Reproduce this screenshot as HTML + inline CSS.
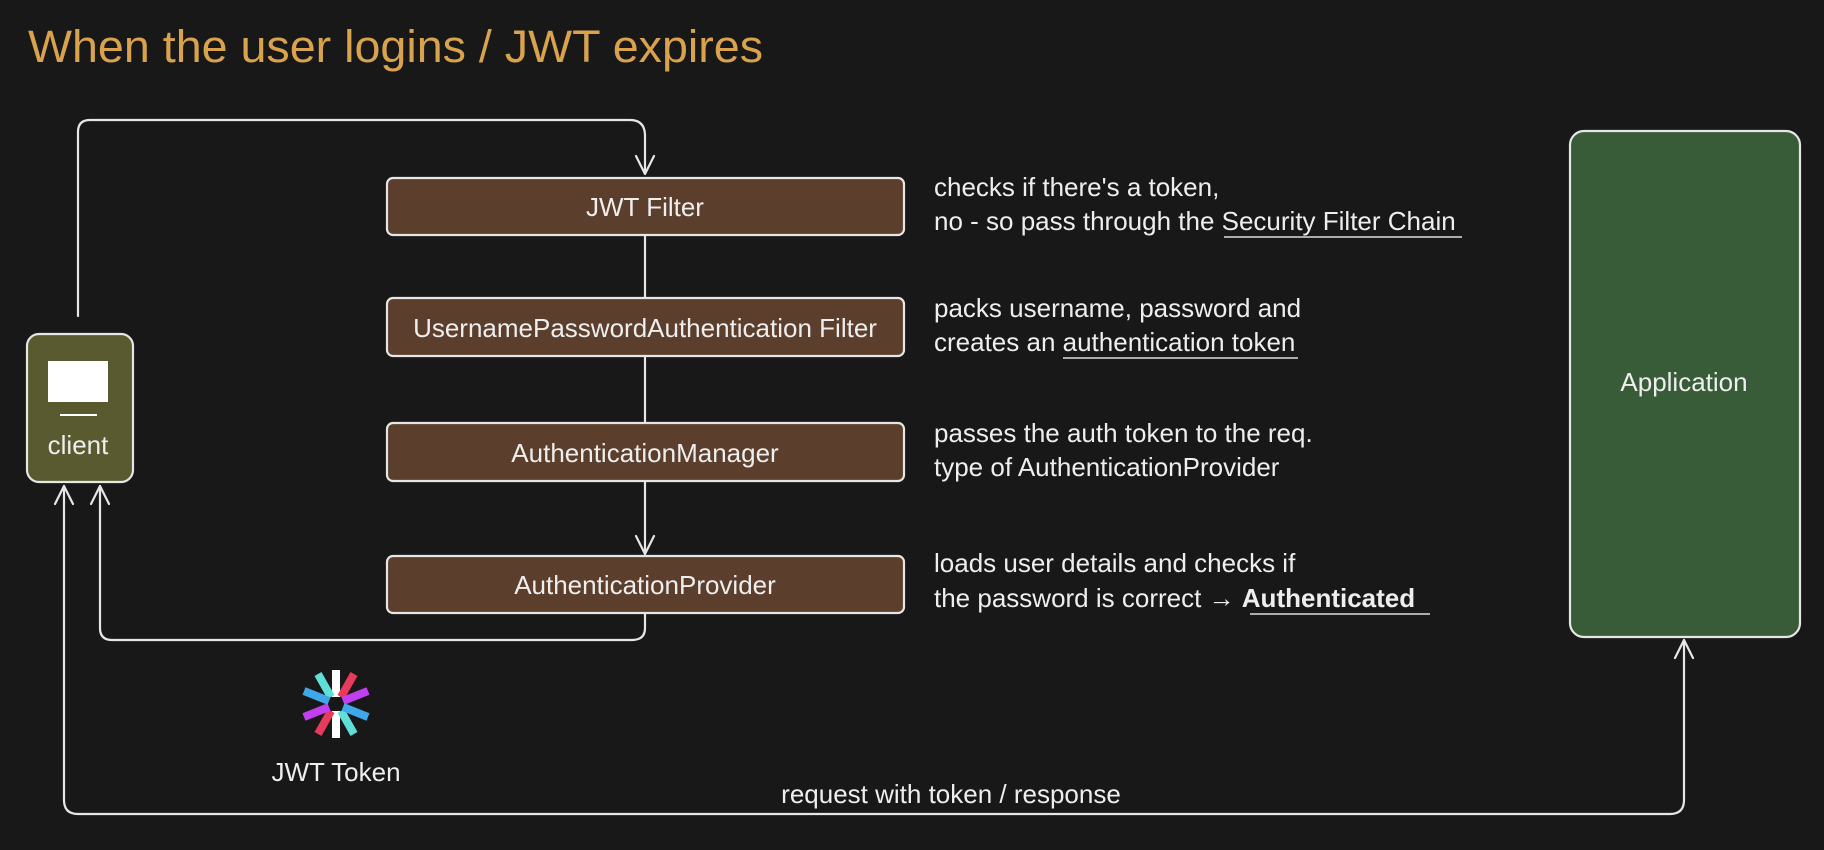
<!DOCTYPE html>
<html><head><meta charset="utf-8"><style>
body{margin:0;background:#181818;width:1824px;height:850px;overflow:hidden;font-family:"Liberation Sans",sans-serif;}
svg{position:absolute;left:0;top:0}
.t{fill:#eee;font-size:26px;font-family:"Liberation Sans",sans-serif}
</style></head><body>
<svg width="1824" height="850" viewBox="0 0 1824 850">
<text x="28" y="62" fill="#d9a24c" font-size="45" font-family="Liberation Sans" textLength="735" lengthAdjust="spacingAndGlyphs">When the user logins / JWT expires</text>
<g fill="none" stroke="#e6e6e6" stroke-width="2.2" stroke-linecap="round" stroke-linejoin="round">
<path d="M78 316 V132 Q78 120 90 120 H630 Q645 120 645 136 V172"/>
<path d="M636 156 L645 174 L654 156"/>
<path d="M645 236 V298 M645 357 V423 M645 482 V554"/>
<path d="M636 536 L645 554 L654 536"/>
<path d="M645 614 V628 Q645 640 632 640 H112 Q100 640 100 628 V486"/>
<path d="M91 504 L100 486 L109 504"/>
<path d="M64 486 V800 Q64 814 78 814 H1670 Q1684 814 1684 800 V640"/>
<path d="M55 504 L64 486 L73 504 M1675 658 L1684 640 L1693 658"/>
</g>
<g stroke="#e6e6e6" stroke-width="2.2" fill="#5b3e2b">
<rect x="387" y="178" width="517" height="57" rx="6"/>
<rect x="387" y="298" width="517" height="58" rx="6"/>
<rect x="387" y="423" width="517" height="58" rx="6"/>
<rect x="387" y="556" width="517" height="57" rx="6"/>
<rect x="27" y="334" width="106" height="148" rx="12" fill="#5a5a31"/>
<rect x="1570" y="131" width="230" height="506" rx="14" fill="#385c38"/>
</g>
<g text-anchor="middle">
<text class="t" x="645" y="216">JWT Filter</text>
<text class="t" x="645" y="337">UsernamePasswordAuthentication Filter</text>
<text class="t" x="645" y="462">AuthenticationManager</text>
<text class="t" x="645" y="594">AuthenticationProvider</text>
<text class="t" x="78" y="454">client</text>
<text class="t" x="1684" y="391">Application</text>
<text class="t" x="336" y="781">JWT Token</text>
<text class="t" x="951" y="803">request with token / response</text>
</g>
<rect x="48" y="361" width="60" height="41" fill="#fff"/>
<rect x="60" y="414" width="37" height="2" fill="#fff"/>
<g>
<text class="t" x="934" y="196">checks if there's a token,</text>
<text class="t" x="934" y="230">no - so pass through the Security Filter Chain</text>
<text class="t" x="934" y="317">packs username, password and</text>
<text class="t" x="934" y="351">creates an authentication token</text>
<text class="t" x="934" y="442">passes the auth token to the req.</text>
<text class="t" x="934" y="476">type of AuthenticationProvider</text>
<text class="t" x="934" y="572">loads user details and checks if</text>
<text class="t" x="934" y="607">the password is correct → <tspan font-weight="bold">Authenticated</tspan></text>
</g>
<g stroke="#ddd" stroke-width="1.5">
<line x1="1224" y1="237" x2="1462" y2="237"/>
<line x1="1063" y1="358" x2="1298" y2="358"/>
<line x1="1250" y1="614" x2="1430" y2="614"/>
</g>
<g transform="translate(336,704)" stroke-width="8">
<line x1="0" y1="-7" x2="0" y2="-34" stroke="#fff"/>
<line x1="0" y1="7" x2="0" y2="34" stroke="#fff"/>
<line x1="5" y1="-7" x2="18" y2="-30" stroke="#e83a5a"/>
<line x1="-5" y1="7" x2="-18" y2="30" stroke="#e83a5a"/>
<line x1="-5" y1="-7" x2="-18" y2="-30" stroke="#5ee0d8"/>
<line x1="5" y1="7" x2="18" y2="30" stroke="#5ee0d8"/>
<line x1="7" y1="-3" x2="32" y2="-13" stroke="#c040f0"/>
<line x1="-7" y1="3" x2="-32" y2="13" stroke="#c040f0"/>
<line x1="-7" y1="-3" x2="-32" y2="-13" stroke="#40a8e8"/>
<line x1="7" y1="3" x2="32" y2="13" stroke="#40a8e8"/>
</g>
</svg>
</body></html>
